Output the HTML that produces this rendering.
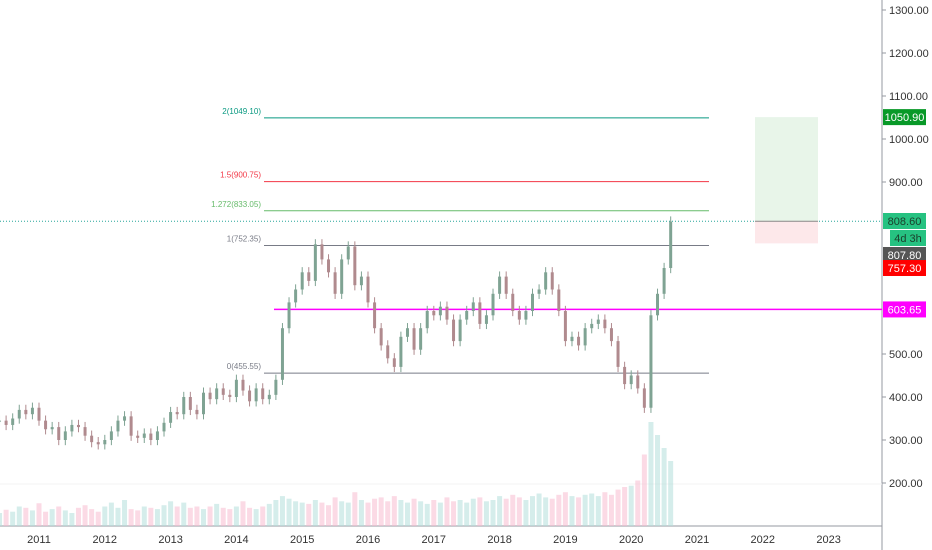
<!DOCTYPE html>
<html><head><meta charset="utf-8"><style>
body{margin:0;background:#fff;font-family:"Liberation Sans",sans-serif;}
svg{display:block}
</style></head><body>
<svg id="c" width="932" height="550" xmlns="http://www.w3.org/2000/svg"></svg>
<script>
const years=[2010.4,2010.5,2010.6,2010.7,2010.8,2010.9,2011.0,2011.1,2011.2,2011.3,2011.4,2011.5,2011.6,2011.7,2011.8,2011.9,2012.0,2012.1,2012.2,2012.3,2012.4,2012.5,2012.6,2012.7,2012.8,2012.9,2013.0,2013.1,2013.2,2013.3,2013.4,2013.5,2013.6,2013.7,2013.8,2013.9,2014.0,2014.1,2014.2,2014.3,2014.4,2014.5,2014.6,2014.7,2014.8,2014.9,2015.0,2015.1,2015.2,2015.3,2015.4,2015.5,2015.6,2015.7,2015.8,2015.9,2016.0,2016.1,2016.2,2016.3,2016.4,2016.5,2016.6,2016.7,2016.8,2016.9,2017.0,2017.1,2017.2,2017.3,2017.4,2017.5,2017.6,2017.7,2017.8,2017.9,2018.0,2018.1,2018.2,2018.3,2018.4,2018.5,2018.6,2018.7,2018.8,2018.9,2019.0,2019.1,2019.2,2019.3,2019.4,2019.5,2019.6,2019.7,2019.8,2019.9,2020.0,2020.1,2020.2,2020.3,2020.4,2020.5,2020.6];
const closes=[345,335,350,370,360,375,345,325,330,300,320,335,330,310,295,290,300,320,345,355,310,305,315,300,320,340,365,360,400,370,360,410,395,420,405,400,440,415,390,420,395,405,440,560,620,650,690,670,755,720,690,640,720,750,660,680,620,560,520,490,470,540,560,510,560,600,590,610,580,530,580,600,620,570,590,640,680,640,600,580,600,640,650,690,650,600,530,540,520,560,570,580,560,530,470,430,450,420,375,590,640,700,808];
const volumes=[20,25,22,30,28,24,35,22,26,30,24,20,28,32,26,22,30,36,28,40,26,24,30,28,26,32,38,30,36,28,30,26,30,34,28,26,30,38,28,26,30,34,40,46,42,38,36,34,40,36,32,44,38,36,52,40,36,42,44,38,46,40,36,42,38,34,40,36,44,38,40,36,42,44,38,40,46,42,48,44,40,46,50,44,42,48,52,46,44,48,50,46,52,48,56,60,62,70,110,160,140,120,100];
const priceTicks=[1300,1200,1100,1000,900,500,400,300,200];
const yearTicks=[2011,2012,2013,2014,2015,2016,2017,2018,2019,2020,2021,2022,2023];
const fibLevels=[["2(1049.10)",1049.1,"#089981"],["1.5(900.75)",900.75,"#f23645"],["1.272(833.05)",833.05,"#66bb6a"],["1(752.35)",752.35,"#787b86"],["0(455.55)",455.55,"#787b86"]];

const NS="http://www.w3.org/2000/svg";
const svg=document.getElementById('c');
const X=yr=>39+(yr-2011)*65.8;
const Y=p=>182-(p-900)*0.43;
const VY=v=>526-v*0.65;
function el(t,a,parent){const e=document.createElementNS(NS,t);for(const k in a)e.setAttribute(k,a[k]);(parent||svg).appendChild(e);return e;}

let ax=el('line',{x1:882,y1:0,x2:882,y2:550,stroke:'#9598a1'});

let bx=el('line',{x1:0,y1:526,x2:882,y2:526,stroke:'#9598a1'});

el('line',{x1:0,y1:484,x2:882,y2:484,stroke:'#f3f3f3'});

priceTicks.forEach(p=>{
  const t=el('text',{x:889,y:Y(p)+4,'font-size':11,fill:'#333'});t.textContent=p.toFixed(2);
  
  el('line',{x1:882,y1:Y(p),x2:886,y2:Y(p),stroke:'#9598a1'});
});
yearTicks.forEach(yr=>{
  const t=el('text',{x:X(yr),y:543,'font-size':11,fill:'#333','text-anchor':'middle'});t.textContent=yr;
  
});

years.forEach((yr,i)=>{
  const up=i==0||closes[i]>=closes[i-1];
  const r=el('rect',{x:X(yr)-2.5,y:VY(volumes[i]),width:5,height:526-VY(volumes[i]),fill:up?'#b2dfdb':'#f8bbd0',opacity:0.55});
  
});

fibLevels.forEach(f=>{
  const y=Y(f[1]);
  const l=el('line',{x1:264,y1:y,x2:709,y2:y,stroke:f[2],'stroke-width':1});
  
  const t=el('text',{x:261,y:y-4,'font-size':8,fill:f[2],'text-anchor':'end'});t.textContent=f[0];
  
});
let m=el('line',{x1:274,y1:Y(603.65),x2:882,y2:Y(603.65),stroke:'#ff00ff','stroke-width':1.5});

let d=el('line',{x1:0,y1:Y(808.6),x2:882,y2:Y(808.6),stroke:'#26a69a','stroke-dasharray':'1,2'});

let g=el('rect',{x:755,y:Y(1050.9),width:63,height:Y(808.6)-Y(1050.9),fill:'#e8f5e9'});

let rz=el('rect',{x:755,y:Y(808.6),width:63,height:Y(757.3)-Y(808.6),fill:'#fde8ea'});

el('line',{x1:755,y1:Y(808.6),x2:818,y2:Y(808.6),stroke:'#888'});

years.forEach((yr,i)=>{
  const o=i==0?closes[0]:closes[i-1], c=closes[i];
  const up=c>=o, col=up?'#7fa393':'#b08a8e';
  const hi=Math.max(o,c)+12, lo=Math.min(o,c)-12;
  const w=el('line',{x1:X(yr),y1:Y(hi),x2:X(yr),y2:Y(lo),stroke:col});
  
  const b=el('rect',{x:X(yr)-1.5,y:Y(Math.max(o,c)),width:3,height:Math.max(1,Y(Math.min(o,c))-Y(Math.max(o,c))),fill:col});
  
});

function badge(y,txt,bg,fg,x,w,name){
  const r=el('rect',{x:x,y:y-8,width:w,height:16,fill:bg});
  
  const t=el('text',{x:x+w/2,y:y+4,'font-size':11,fill:fg,'text-anchor':'middle'});t.textContent=txt;
}
badge(Y(1050.9),'1050.90','#089928','#fff',883,43,'target-price-badge');
badge(221,'808.60','#26c281','#1b3d2b',883,43,'last-price-badge');
badge(238,'4d 3h','#26c281','#1b3d2b',890,36,'countdown-badge');
badge(255,'807.80','#555','#fff',883,43,'close-price-badge');
badge(268,'757.30','#f00','#fff',883,43,'stop-price-badge');
badge(Y(603.65),'603.65','#ff00ff','#fff',883,43,'support-price-badge');
</script>
</body></html>
